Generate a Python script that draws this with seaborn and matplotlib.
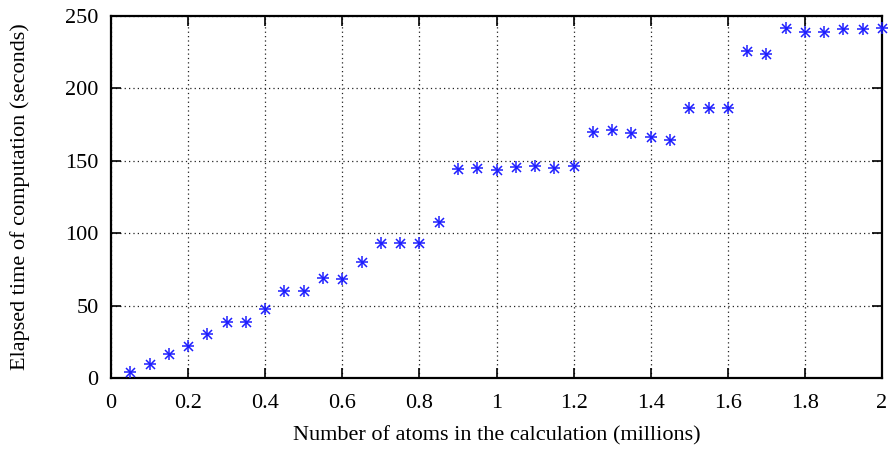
import matplotlib
matplotlib.use('Agg')

import matplotlib.pyplot as plt
import seaborn as sns
from matplotlib.ticker import FormatStrFormatter

sns.set_style('ticks')
plt.rcParams['font.family'] = ['Liberation Serif', 'DejaVu Serif']
plt.rcParams['text.color'] = 'black'
plt.rcParams['axes.labelcolor'] = 'black'

# atoms (millions) vs elapsed time (seconds)
atoms = [0.05, 0.10, 0.15, 0.20, 0.25, 0.30, 0.35, 0.40, 0.45, 0.50,
         0.55, 0.60, 0.65, 0.70, 0.75, 0.80, 0.85, 0.90, 0.95, 1.00,
         1.05, 1.10, 1.15, 1.20, 1.25, 1.30, 1.35, 1.40, 1.45, 1.50,
         1.55, 1.60, 1.65, 1.70, 1.75, 1.80, 1.85, 1.90, 1.95, 2.00]
seconds = [4.6, 9.9, 16.8, 22.5, 30.8, 38.8, 38.8, 47.6, 60.4, 60.4,
           69.0, 68.3, 80.0, 93.1, 93.1, 93.1, 107.8, 144.3, 145.2, 143.7,
           146.0, 146.4, 145.0, 146.6, 169.7, 171.2, 169.2, 166.2, 164.1, 186.2,
           186.2, 186.2, 226.0, 223.4, 241.6, 238.6, 239.0, 240.9, 240.9, 241.8]

fig = plt.figure(figsize=(8.91, 4.49), dpi=100)
ax = fig.add_axes([0.1246, 0.1575, 0.8653, 0.8075])

# gnuplot-style asterisk: a '+' and an 'x' on top of each other
sns.scatterplot(x=atoms, y=seconds, ax=ax, marker='+', s=80, color='#1f1fff',
                linewidth=1.1, zorder=3, clip_on=False)
sns.scatterplot(x=atoms, y=seconds, ax=ax, marker='x', s=42, color='#1f1fff',
                linewidth=1.1, zorder=3, clip_on=False)

ax.set_xlim(0, 2)
ax.set_ylim(0, 250)
ax.set_xticks([0, 0.2, 0.4, 0.6, 0.8, 1.0, 1.2, 1.4, 1.6, 1.8, 2.0])
ax.set_yticks([0, 50, 100, 150, 200, 250])
ax.xaxis.set_major_formatter(FormatStrFormatter('%g'))
ax.grid(True, linestyle=(0, (1, 2.5)), color='#222222', linewidth=0.9)
ax.set_axisbelow(True)
for sp in ax.spines.values():
    sp.set_visible(True)
    sp.set_linewidth(1.6)
    sp.set_color('black')
ax.tick_params(direction='in', length=7, width=1.2, top=True, right=True,
               labelsize=16, colors='black')
ax.tick_params(axis='x', pad=11)
ax.tick_params(axis='y', pad=9)

ax.set_xlabel('Number of atoms in the calculation (millions)', fontsize=16,
              va='center', color='black')
ax.set_ylabel('Elapsed time of computation (seconds)', fontsize=16,
              va='center', color='black')
ax.xaxis.set_label_coords(0.5, -0.159)
ax.yaxis.set_label_coords(-0.118, 0.5)

plt.savefig('out.png', dpi=100)
plt.close()
